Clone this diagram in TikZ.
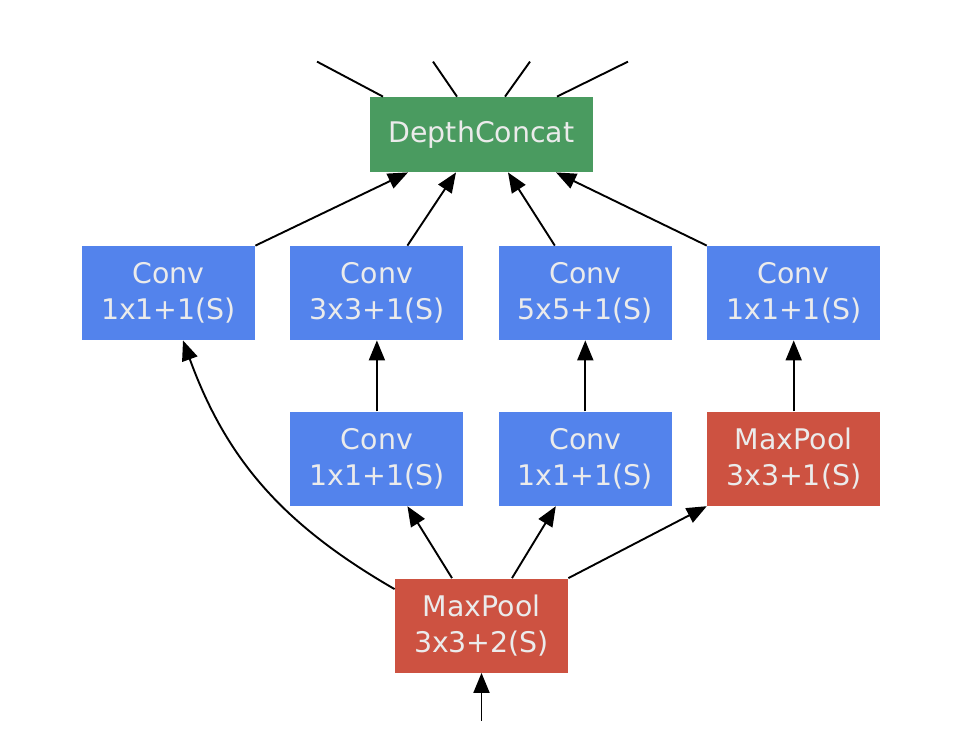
\documentclass[tikz,border=0pt]{standalone}
\usepackage{fontspec}
\setmainfont{DejaVu Sans}
\usepackage{tikz}
\usetikzlibrary{arrows.meta,positioning,calc}
\definecolor{convblue}{RGB}{83,131,236}
\definecolor{poolred}{RGB}{205,82,65}
\definecolor{catgreen}{RGB}{74,155,96}

\begin{document}
\begin{tikzpicture}[x=0.5pt, y=-0.5pt, node distance=35.5pt and 17.3pt, every node/.style={font=\fontsize{14.2}{18}\selectfont, text=white!92!black}, box/.style={minimum width=86.5pt, minimum height=47pt, inner sep=0pt, align=center}, conv/.style={box, fill=convblue}, pool/.style={box, fill=poolred}, concat/.style={box, fill=catgreen, minimum width=111.5pt, minimum height=37.5pt}, arr/.style={-{Triangle[length=10pt, width=8pt]}, line width=0.95pt}, link/.style={line width=0.95pt}]
\useasboundingbox (0,0) rectangle (968,736);
\node[conv] (c1) at (168.5,293) {Conv\\1x1+1(S)};
\node[conv, right=of c1] (c2) {Conv\\3x3+1(S)};
\node[conv, right=of c2] (c3) {Conv\\5x5+1(S)};
\node[conv, right=of c3] (c4) {Conv\\1x1+1(S)};
\node[conv, below=of c2] (r2) {Conv\\1x1+1(S)};
\node[conv, below=of c3] (r3) {Conv\\1x1+1(S)};
\node[pool, below=of c4] (p2) {MaxPool\\3x3+1(S)};
\node[concat] (dc) at (481.5,134.5) {DepthConcat};
\node[pool] (p1) at (481.5,625.5) {MaxPool\\3x3+2(S)};
% free ends
\coordinate (o1) at ($([xshift=-49.25pt]dc.north)+(-66,-35)$);
\coordinate (o2) at ($([xshift=-12.25pt]dc.north)+(-24,-35)$);
\coordinate (o3) at ($([xshift=11.75pt]dc.north)+(25,-35)$);
\coordinate (o4) at ($([xshift=37.75pt]dc.north)+(71,-35)$);
\coordinate (in) at ($(p1.south)+(0,48)$);
\draw[link] ([xshift=-49.25pt]dc.north) -- (o1);
\draw[link] ([xshift=-12.25pt]dc.north) -- (o2);
\draw[link] ([xshift=11.75pt]dc.north) -- (o3);
\draw[link] ([xshift=37.75pt]dc.north) -- (o4);
\draw[arr] (c1.north east) -- ([xshift=-36.75pt]dc.south);
\draw[arr] ([xshift=15.25pt]c2.north) -- ([xshift=-12.75pt]dc.south);
\draw[arr] ([xshift=-15.25pt]c3.north) -- ([xshift=13.25pt]dc.south);
\draw[arr] (c4.north west) -- ([xshift=37.25pt]dc.south);
\draw[arr] (r2) -- (c2); \draw[arr] (r3) -- (c3); \draw[arr] (p2) -- (c4);
\draw[arr] ([yshift=-5.5pt]p1.north west) to[out=150, in=-70] ([xshift=7.25pt]c1.south);
\draw[arr] ([xshift=-14.75pt]p1.north) -- ([xshift=15.25pt]r2.south);
\draw[arr] ([xshift=15.25pt]p1.north) -- ([xshift=-14.75pt]r3.south);
\draw[arr] (p1.north east) -- (p2.south west);
\draw[arr] (in) -- (p1);
\end{tikzpicture}
\end{document}
